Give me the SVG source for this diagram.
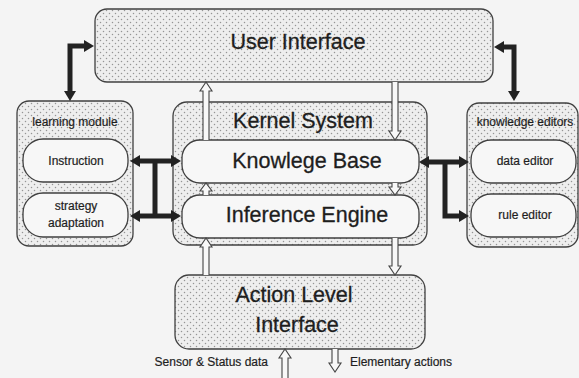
<svg xmlns="http://www.w3.org/2000/svg" width="579" height="378" viewBox="0 0 579 378">
  <defs>
    <!-- stipple used inside the module frames -->
    <pattern id="dots" width="6" height="6" patternUnits="userSpaceOnUse">
      <rect width="6" height="6" fill="#eeeeee"/>
      <circle cx="1.5" cy="1.5" r="0.75" fill="#959595"/>
      <circle cx="4.5" cy="4.5" r="0.75" fill="#959595"/>
    </pattern>
    <marker id="head" markerUnits="userSpaceOnUse" markerWidth="12" markerHeight="12" refX="1" refY="6" orient="auto-start-reverse">
      <path d="M0,0 L10,6 L0,12 z" fill="#222"/>
    </marker>
    <style>
      .frame { fill: url(#dots); stroke: #404040; stroke-width: 1.3; }
      .pill { fill: #f7f7f7; stroke: #404040; stroke-width: 1.3; }
      .big { font-family: "Liberation Sans", Arial, sans-serif; font-size: 21.5px; fill: #1e1e1e; stroke: #1e1e1e; stroke-width: 0.3; text-anchor: middle; }
      .small { font-family: "Liberation Sans", Arial, sans-serif; font-size: 12px; fill: #1e1e1e; stroke: #1e1e1e; stroke-width: 0.2; text-anchor: middle; }
      .thick { fill: none; stroke: #222; stroke-width: 5; stroke-linejoin: miter; }
      .hollow { fill: #f8f8f8; stroke: #444; stroke-width: 1.1; stroke-linejoin: miter; }
    </style>
  </defs>

  <rect width="579" height="378" fill="#f4f4f4"/>

  <g id="user-interface">
    <rect class="frame" x="95" y="9" width="398" height="73" rx="12"/>
    <text class="big" x="298" y="49">User Interface</text>
  </g>

  <g id="learning-module">
    <rect class="frame" x="17" y="101" width="116" height="145" rx="12"/>
    <text class="small" x="75" y="126">learning module</text>
    <g id="instruction">
      <rect class="pill" x="23" y="139" width="105" height="43" rx="20"/>
      <text class="small" x="76" y="165">Instruction</text>
    </g>
    <g id="strategy-adaptation">
      <rect class="pill" x="23" y="193" width="105" height="44" rx="20"/>
      <text class="small" x="76" y="210">strategy</text>
      <text class="small" x="76" y="227">adaptation</text>
    </g>
  </g>

  <g id="kernel-system">
    <rect class="frame" x="173" y="102" width="254" height="143" rx="14"/>
    <text class="big" x="303" y="128">Kernel System</text>
    <g id="knowledge-base">
      <rect class="pill" x="182" y="140" width="237" height="43" rx="18"/>
      <text class="big" x="307" y="168">Knowlege Base</text>
    </g>
    <g id="inference-engine">
      <rect class="pill" x="182" y="195" width="237" height="43" rx="18"/>
      <text class="big" x="307" y="222">Inference Engine</text>
    </g>
  </g>

  <g id="knowledge-editors">
    <rect class="frame" x="467" y="103" width="111" height="144" rx="12"/>
    <text class="small" x="525" y="126">knowledge editors</text>
    <g id="data-editor">
      <rect class="pill" x="471" y="140" width="105" height="43" rx="20"/>
      <text class="small" x="525" y="165">data editor</text>
    </g>
    <g id="rule-editor">
      <rect class="pill" x="471" y="194" width="105" height="43" rx="20"/>
      <text class="small" x="525" y="219">rule editor</text>
    </g>
  </g>

  <g id="action-level-interface">
    <rect class="frame" x="175" y="275" width="250" height="74" rx="14"/>
    <text class="big" x="294" y="302">Action Level</text>
    <text class="big" x="297" y="332">Interface</text>
  </g>

  <g id="io-labels">
    <text class="small" x="268" y="366" style="text-anchor:end">Sensor &amp; Status data</text>
    <text class="small" x="350" y="366" style="text-anchor:start">Elementary actions</text>
  </g>

  <g id="connectors">
    <!-- bold two-way links to the side modules -->
    <polyline class="thick" points="70,92 70,46 85,46" marker-start="url(#head)" marker-end="url(#head)"/>
    <polyline class="thick" points="514,92 514,47 503,47" marker-start="url(#head)" marker-end="url(#head)"/>
    <line class="thick" x1="155" y1="161" x2="155" y2="216"/>
    <line class="thick" x1="139" y1="161" x2="172" y2="161" marker-start="url(#head)" marker-end="url(#head)"/>
    <line class="thick" x1="139" y1="216" x2="172" y2="216" marker-start="url(#head)" marker-end="url(#head)"/>
    <line class="thick" x1="428" y1="162" x2="460" y2="162" marker-start="url(#head)" marker-end="url(#head)"/>
    <polyline class="thick" points="445,162 445,216 460,216" marker-end="url(#head)"/>

    <!-- hollow data-flow arrows: upward column -->
    <path class="hollow" d="M203 140 V91 H200 L206 82 L212 91 H209 V140"/>
    <path class="hollow" d="M203 195 V191 H200 L206 183 L212 191 H209 V195"/>
    <path class="hollow" d="M203 275 V247 H200 L206 238 L212 247 H209 V275"/>
    <!-- downward column -->
    <path class="hollow" d="M392 82 V131 H389 L395 140 L401 131 H398 V82"/>
    <path class="hollow" d="M392 183 V187 H389 L395 195 L401 187 H398 V183"/>
    <path class="hollow" d="M392 238 V266 H389 L395 275 L401 266 H398 V238"/>
    <!-- external sensor input and action output -->
    <path class="hollow" d="M282 378 V358 H279 L285 349 L291 358 H288 V378"/>
    <path class="hollow" d="M332 349 V363 H329 L335 372 L341 363 H338 V349"/>
  </g>
</svg>
